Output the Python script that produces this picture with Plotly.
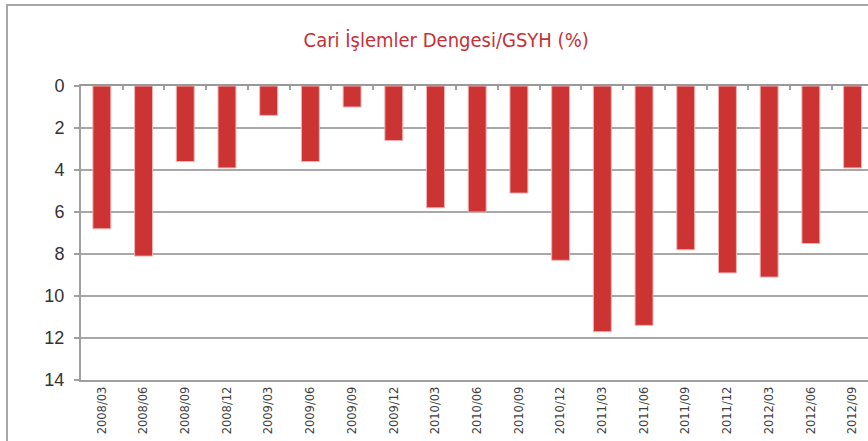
import plotly.graph_objects as go

categories = ["2008/03", "2008/06", "2008/09", "2008/12", "2009/03", "2009/06", "2009/09",
              "2009/12", "2010/03", "2010/06", "2010/09", "2010/12", "2011/03", "2011/06",
              "2011/09", "2011/12", "2012/03", "2012/06", "2012/09"]
values = [6.8, 8.1, 3.6, 3.9, 1.4, 3.6, 1.0, 2.6, 5.8, 6.0, 5.1, 8.3, 11.7, 11.4,
          7.8, 8.9, 9.1, 7.5, 3.9]
y_ticks = [0, 2, 4, 6, 8, 10, 12, 14]
title_text = "Cari İşlemler Dengesi/GSYH (%)"

n = len(categories)
idx = list(range(n))
x_max = 18.37

fig = go.Figure()
fig.add_trace(go.Bar(
    x=idx, y=values, width=0.43,
    marker=dict(color="#cc3333", line=dict(color="#f0b4b4", width=1)),
    hoverinfo="x+y",
))
# helper trace to create the top axis with category-boundary tick marks
fig.add_trace(go.Scatter(
    x=idx, y=[0] * n, xaxis="x2", mode="markers",
    marker=dict(opacity=0), hoverinfo="skip", showlegend=False,
))

fig.update_layout(
    width=868, height=441,
    margin=dict(l=81, r=0, t=86, b=61),
    plot_bgcolor="white", paper_bgcolor="white",
    showlegend=False,
    title=dict(text=title_text, x=0.464, xref="paper", xanchor="center",
               y=1 - 40 / 441, yref="container", yanchor="middle",
               font=dict(family="DejaVu Sans Condensed, sans-serif",
                         size=20, color="#c62f38")),
    xaxis=dict(
        range=[-0.5, x_max],
        tickmode="array", tickvals=idx, ticktext=categories,
        tickangle=-90, ticks="",
        tickfont=dict(family="DejaVu Sans, sans-serif", size=11.5, color="#404040"),
        showline=True, linecolor="#a0a0a0", linewidth=2,
        showgrid=False, zeroline=False, automargin=False,
    ),
    xaxis2=dict(
        overlaying="x", side="top", anchor="y",
        range=[-0.5, x_max],
        tickmode="array", tickvals=[i + 0.5 for i in idx],
        ticks="inside", ticklen=4, tickwidth=1.5, tickcolor="#a0a0a0",
        showticklabels=False,
        showline=True, linecolor="#999999", linewidth=2,
        showgrid=False, zeroline=False,
    ),
    yaxis=dict(
        range=[14, 0],
        tickmode="array", tickvals=y_ticks,
        ticks="outside", ticklen=5, tickwidth=1.5, tickcolor="#a0a0a0",
        ticklabelstandoff=6,
        tickfont=dict(family="Liberation Sans, sans-serif", size=18, color="#333333"),
        showline=True, linecolor="#a0a0a0", linewidth=2,
        showgrid=True, gridcolor="#a8a8a8", gridwidth=1.5,
        zeroline=False, automargin=False,
    ),
    shapes=[dict(type="rect", xref="paper", yref="paper",
                 x0=(7 - 81) / 787, x1=1.2, y0=-0.5, y1=(380 - 5) / 294,
                 line=dict(color="#a6a6a6", width=2), fillcolor="rgba(0,0,0,0)",
                 layer="below")],
)

fig.write_html("out.html", config={"displayModeBar": False},
               post_script="document.body.style.margin='0';document.body.style.overflow='hidden';")
